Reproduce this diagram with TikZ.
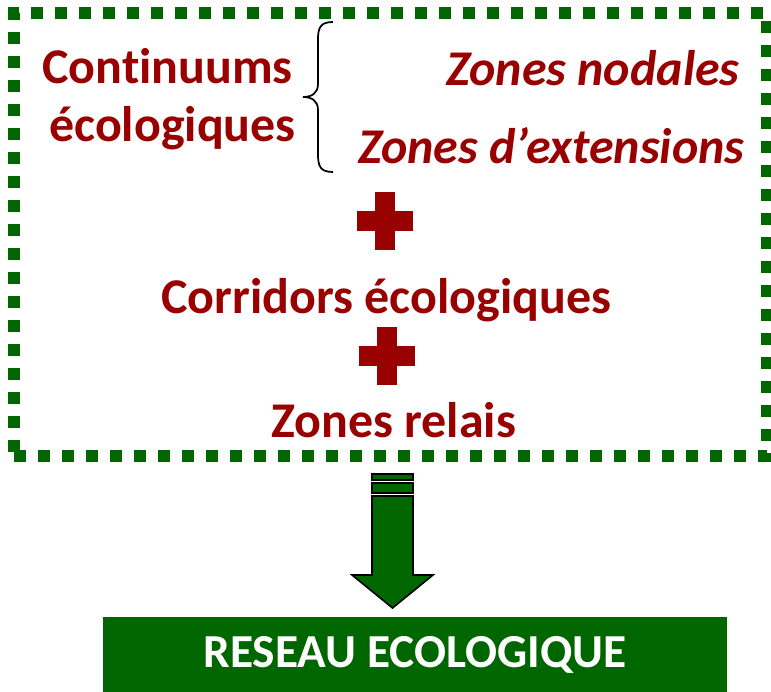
\documentclass[tikz,border=0pt]{standalone}
\usepackage{fontspec}
\setmainfont{Carlito}[Ligatures=NoCommon]
\usepackage{xcolor}
\usetikzlibrary{positioning, fit, calc}

\definecolor{rouge}{HTML}{990000}
\definecolor{vert}{HTML}{006600}

\begin{document}
\begin{tikzpicture}[
    x=0.75pt, y=-0.75pt,
    titre/.style={
        text=rouge,
        font=\fontsize{37.5}{45}\selectfont\bfseries,
        inner sep=0pt,
        anchor=base
    },
    soustitre/.style={
        titre,
        font=\fontsize{37.5}{45}\selectfont\bfseries\itshape,
        anchor=base east
    },
    cadre/.style={
        draw=vert,
        line width=8.5pt,
        dash pattern=on 9pt off 9pt,
        inner sep=0pt
    },
    accolade/.style={
        draw=black,
        line width=1.3pt
    },
    fleche/.style={
        draw=black,
        line width=1.2pt,
        fill=vert
    },
    resultat/.style={
        rectangle,
        fill=vert,
        text=white,
        minimum width=468pt,
        minimum height=56.25pt,
        font=\fontsize{35.5}{40}\selectfont\bfseries
    },
    croix/.pic={
        \fill[rouge] (-28,-10) rectangle (28,10);
        \fill[rouge] (-10,-29) rectangle (10,29);
    }
]
\useasboundingbox (0,0) rectangle (771,692);

% Cadre
\coordinate (nw) at (14,13);
\coordinate (se) at (767,456);
\node [cadre, fit=(nw)(se)] (zone) {};

% Textes
\node [titre] (cont) at (167.5,84) {Continuums};
\node [titre] (eco) at (172.5,141) {écologiques};
\node [soustitre] (nodales) at (740,86) {Zones nodales};
\node [soustitre] (extensions) at (745,163) {Zones d’extensions};
\node [titre] (corridors) at (386.5,313) {Corridors écologiques};
\node [titre] (relais) at (393.5,437) {Zones relais};

% Accolade
\draw [accolade] (333,22) .. controls (320,22) and (318,28) .. (318,40) -- (318,84)
    .. controls (318,93) and (312,97) .. (303,97)
    .. controls (312,97) and (318,101) .. (318,110) -- (318,154)
    .. controls (318,166) and (320,172) .. (333,172);

% Signes plus
\pic at (385,221) {croix};
\pic at (386.5,356) {croix};

% Fleche
\filldraw [fleche] (372,474) rectangle (413,480);
\filldraw [fleche] (372,483) rectangle (413,493);
\filldraw [fleche] (372,496) -- (413,496) -- (413,575) -- (433,575) -- (392.5,608)
    -- (352,575) -- (372,575) -- cycle;

% Resultat
\node [resultat] (reseau) at (415,654.5) {RESEAU ECOLOGIQUE};

\end{tikzpicture}
\end{document}
